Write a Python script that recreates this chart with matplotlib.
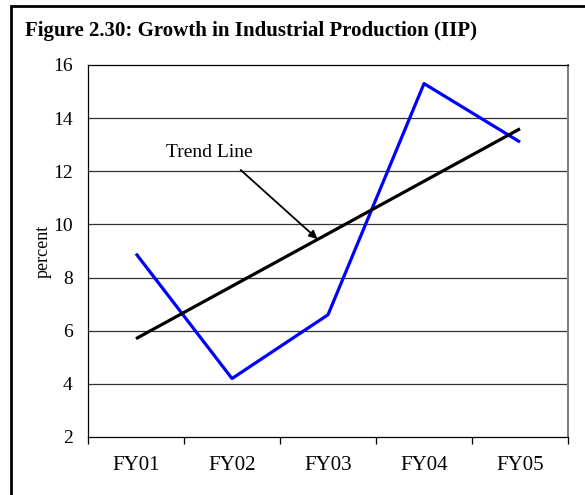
import matplotlib.pyplot as plt
from matplotlib.patches import Rectangle

# data
years = ["FY01", "FY02", "FY03", "FY04", "FY05"]
iip_growth = [8.9, 4.2, 6.6, 15.3, 13.1]
trend_ends = [5.7, 13.6]  # trend line at FY01 and FY05
y_ticks = [2, 4, 6, 8, 10, 12, 14, 16]

plt.rcParams["font.family"] = ["Liberation Serif", "DejaVu Serif"]

fig = plt.figure(figsize=(5.85, 4.95), dpi=100)
ax = fig.add_axes([0.1504, 0.1172, 0.8206, 0.7515])

x = list(range(len(years)))

# gridlines
for yv in y_ticks[1:-1]:
    ax.axhline(yv, color="#333333", lw=0.9, zorder=1)

ax.plot(x, iip_growth, color="#0000ff", lw=2.3, zorder=3, solid_capstyle="butt")
ax.plot([x[0], x[-1]], trend_ends, color="black", lw=2.3, zorder=3,
        solid_capstyle="butt")

# trend line label and arrow
ax.text(0.76, 12.7, "Trend Line", fontsize=14, ha="center", va="center")
ax.annotate(
    "",
    xy=(1.89, 9.45),
    xytext=(1.09, 12.05),
    arrowprops=dict(arrowstyle="-|>", color="black", lw=1.3, mutation_scale=12,
                    shrinkA=0, shrinkB=0),
)

ax.set_xlim(-0.5, len(years) - 0.5)
ax.set_ylim(2, 16)
ax.set_yticks(y_ticks)
ax.set_xticks(x)
ax.set_xticklabels(years)
ax.set_xticks([i - 0.5 for i in range(len(years) + 1)], minor=True)

ax.tick_params(axis="x", which="major", length=0, pad=14, labelsize=15)
ax.tick_params(axis="x", which="minor", length=5, width=0.9, direction="out")
ax.tick_params(axis="y", length=0, pad=11, labelsize=14)

ax.set_ylabel("percent", fontsize=13, labelpad=1)

for side in ["left", "bottom", "top"]:
    ax.spines[side].set_color("black")
    ax.spines[side].set_linewidth(0.9)
ax.spines["right"].set_color("#808080")
ax.spines["right"].set_linewidth(1.5)

fig.text(0.0427, 0.927, "Figure 2.30: Growth in Industrial Production (IIP)",
         fontsize=15, fontweight="bold", ha="left", va="baseline")

# outer frame, runs off the right and bottom edge like the original
fig.patches.append(Rectangle((11 / 585, -0.05), 1.1, 1 - 6 / 495 + 0.05,
                             transform=fig.transFigure, fill=False,
                             edgecolor="black", lw=2))

fig.savefig("out.png", dpi=100)
plt.close()
